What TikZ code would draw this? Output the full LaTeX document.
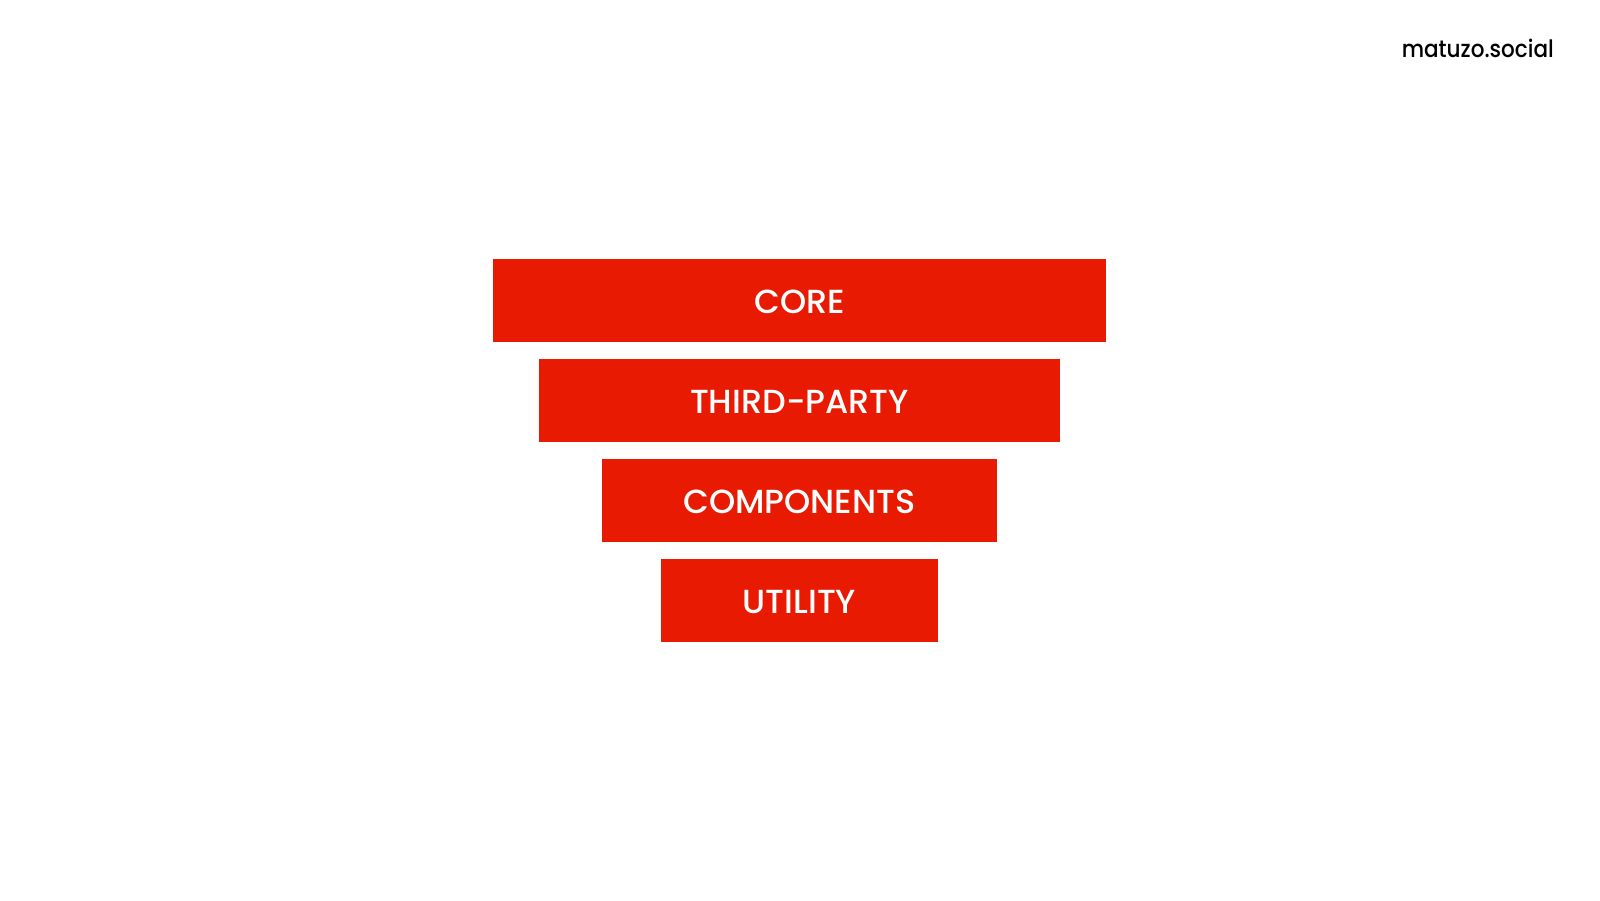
\documentclass[tikz,border=0pt]{standalone}
\usepackage{fontspec}
\setmainfont{Poppins}
\newfontfamily\medfont{Poppins}[UprightFont=* Medium]
\newfontfamily\logofont{Poppins}[UprightFont=* Medium, FakeStretch=0.9]
\definecolor{boxred}{HTML}{E81A02}
\begin{document}
\begin{tikzpicture}[x=1bp,y=-1bp,
  layer/.style={fill=boxred, draw=none, inner sep=0pt, minimum height=83.4bp,
    text height=27bp, text depth=0bp,
    text=white, font=\medfont\fontsize{33.5}{33.5}\selectfont, anchor=north},
  brand/.style={font=\logofont\fontsize{24}{24}\selectfont, text=black, anchor=base east, inner sep=0pt}]
\useasboundingbox[fill=white] (0,0) rectangle (1600,900);
\node[layer, minimum width=613bp] (core) at (799.5,258.3) {CORE};
\node[layer, minimum width=521bp] (third) at (799.5,358.3) {THIRD-PARTY};
\node[layer, minimum width=395bp] (comp) at (799.5,458.3) {COMPONENTS};
\node[layer, minimum width=277bp] (util) at (799.5,558.3) {UTILITY};
\node[brand] (logo) at (1554,57) {matuzo.social};
\end{tikzpicture}
\end{document}
